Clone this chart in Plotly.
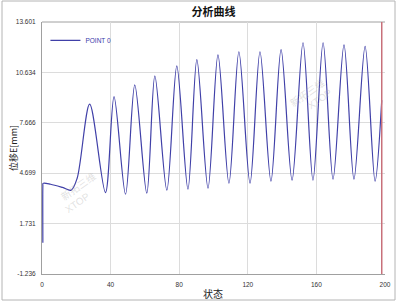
import plotly.graph_objects as go

# ---- data ----
state_x = [0.5, 0.5, 0.6, 5, 12, 17, 20.5,
           27.8, 37.0, 42.0, 48.7, 54.1, 61.1, 65.8, 72.8, 78.6, 85.1, 90.3, 96.8,
           102.6, 109.0, 114.8, 121.3, 127.1, 133.5, 139.4, 145.8, 152.2, 158.0,
           163.9, 169.7, 176.1, 181.9, 188.4, 194.2, 198.1]
disp_y = [0.6, 3.95, 4.10, 4.05, 3.86, 3.70, 4.4,
          8.76, 3.56, 9.21, 3.46, 9.90, 3.52, 10.43, 3.70, 11.02, 3.76, 11.38, 3.82,
          11.67, 4.11, 11.85, 4.11, 11.85, 4.23, 11.97, 4.29, 12.38, 4.29,
          12.38, 4.35, 12.26, 4.35, 12.16, 4.23, 9.0]

y_ticks = [-1.236, 1.731, 4.699, 7.666, 10.634, 13.601]
y_tick_labels = ["-1.236", "1.731", "4.699", "7.666", "10.634", "13.601"]
x_ticks = [0, 40, 80, 120, 160, 200]
cursor_x = 198.1

series_name = "POINT 0"
title = "分析曲线"
x_title = "状态"
y_title = "位移E[mm]"

LINE = "#4040a8"
GRID = "#dcdcdc"
AX = "#a0a0a0"

fig = go.Figure()
fig.add_trace(go.Scatter(
    x=state_x, y=disp_y, mode="lines", name=series_name,
    line=dict(color=LINE, width=1.2, shape="spline", smoothing=0.9),
))

# cursor line
fig.add_shape(type="line", xref="x", yref="paper", x0=cursor_x, x1=cursor_x,
              y0=0, y1=1, line=dict(color="#c8707a", width=1.5))

L, R, T, B = 42, 15, 22, 29
W, H = 400, 303
pw, ph = W - L - R, H - T - B
def px(xp):
    return (xp - L) / pw
def py(yp):
    return (H - B - yp) / ph

# outer frame
fig.add_shape(type="rect", xref="paper", yref="paper",
              x0=px(2), x1=px(395), y0=py(300), y1=py(1),
              line=dict(color="#b4b4b4", width=1), layer="below")

# faint watermarks
for (cx, cy) in [(55, 212), (330, 78)]:
    fig.add_annotation(xref="paper", yref="paper", x=px(cx), y=py(cy - 6),
                       text="新拓三维", showarrow=False, textangle=-35,
                       font=dict(family="Noto Sans CJK SC", size=10,
                                 color="rgba(170,170,170,0.35)"))
    fig.add_annotation(xref="paper", yref="paper", x=px(cx + 6), y=py(cy + 6),
                       text="XTOP", showarrow=False, textangle=-35,
                       font=dict(family="Liberation Sans", size=10,
                                 color="rgba(170,170,170,0.35)"))

# axis titles placed as annotations
fig.add_annotation(xref="paper", yref="paper", x=px(13), y=py(148),
                   text=y_title, showarrow=False, textangle=-90,
                   xanchor="center", yanchor="middle",
                   font=dict(family="Noto Sans CJK SC", size=9, color="#222222"))
fig.add_annotation(xref="paper", yref="paper", x=px(213), y=py(293),
                   text=x_title, showarrow=False,
                   xanchor="center", yanchor="middle",
                   font=dict(family="Noto Sans CJK SC", size=10, color="#222222"))

fig.update_layout(
    width=W, height=H,
    margin=dict(l=L, r=R, t=T, b=B, pad=0, autoexpand=False),
    paper_bgcolor="white", plot_bgcolor="white",
    font=dict(family="Liberation Sans", size=7, color="#333333"),
    title=dict(text=title, x=0.5, xref="paper", xanchor="center",
               y=1 - 12 / H, yanchor="middle", yref="container",
               font=dict(family="Noto Sans CJK SC", size=11, color="#111111",
                         weight="bold")),
    showlegend=True,
    legend=dict(x=0.01, y=0.985, xanchor="left", yanchor="top",
                bgcolor="rgba(0,0,0,0)", borderwidth=0,
                font=dict(family="Liberation Sans", size=6.5, color="#3a3aaa"),
                itemwidth=30, tracegroupgap=0),
    xaxis=dict(range=[0, 200], tickvals=x_ticks, ticks="", showgrid=True,
               gridcolor=GRID, gridwidth=1, zeroline=False, automargin=False,
               showline=True, linecolor=AX, linewidth=1, layer="below traces",
               tickfont=dict(family="Liberation Sans", size=6.5, color="#333333"),
               ticklabelstandoff=4),
    yaxis=dict(range=[-1.236, 13.601], tickvals=y_ticks, ticktext=y_tick_labels,
               ticks="", showgrid=True, gridcolor=GRID, gridwidth=1, zeroline=False,
               automargin=False, layer="below traces",
               showline=True, linecolor=AX, linewidth=1,
               tickfont=dict(family="Liberation Sans", size=6.5, color="#333333"),
               ticklabelstandoff=4),
)
# top border line
fig.add_shape(type="line", xref="paper", yref="paper", x0=0, x1=1, y0=1, y1=1,
              line=dict(color=AX, width=1), layer="below")

fig.write_html("out.html")
